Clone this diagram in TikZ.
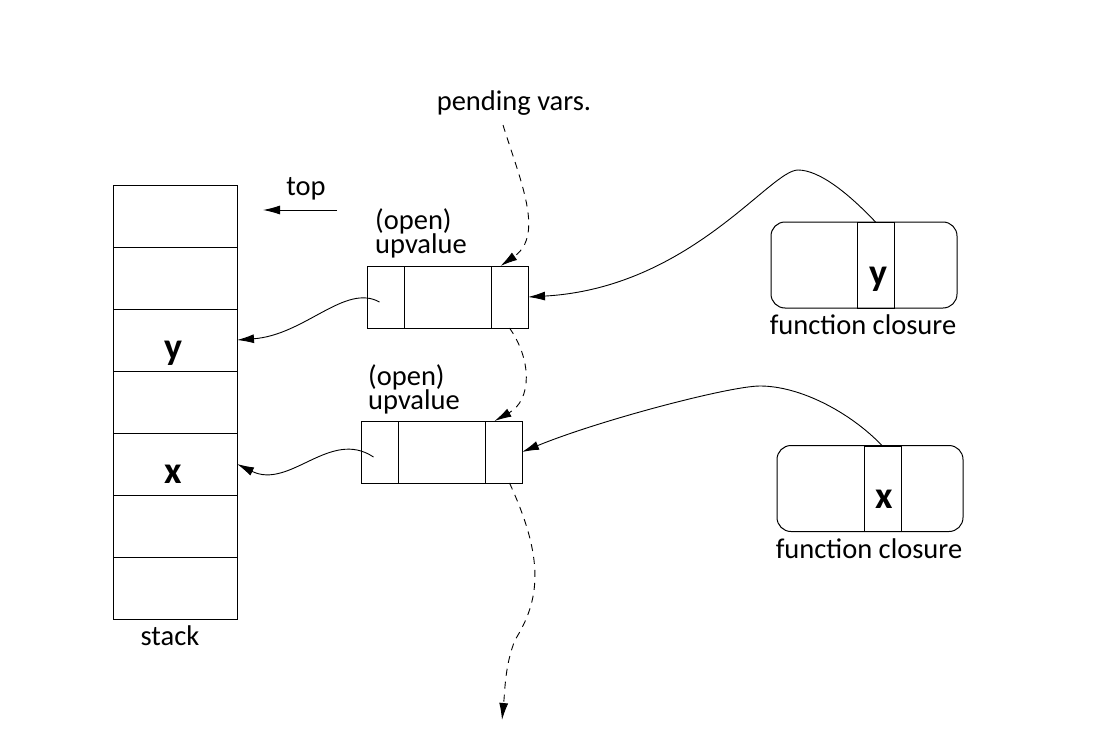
\documentclass[tikz,border=0pt]{standalone}
\usepackage{fontspec}
\setmainfont{Carlito}
\usetikzlibrary{arrows.meta,calc}
\begin{document}
\begin{tikzpicture}[x=1pt,y=-1pt,
  box/.style={draw,line width=1pt,inner sep=0pt,outer sep=0pt},
  stackcell/.style={box,minimum width=124pt,minimum height=62pt},
  narrow/.style={box,minimum width=37pt,minimum height=62pt},
  wide/.style={box,minimum width=87pt,minimum height=62pt},
  closure/.style={box,rounded corners=14pt,minimum width=186pt,minimum height=86pt},
  slot/.style={box,minimum width=37pt,minimum height=86pt},
  letter/.style={inner sep=0pt,anchor=base,font=\fontsize{38}{38}\selectfont\bfseries},
  lbl/.style={inner sep=0pt,font=\fontsize{28.5}{24}\selectfont},
  uplbl/.style={lbl,anchor=base west},
  arr/.style={-{Latex[length=17pt,width=9pt]},line width=0.9pt},
  darr/.style={arr,dash pattern=on 7pt off 6pt}
]
\useasboundingbox (0,0) rectangle (1102,741);

% stack
\node[stackcell] (s1) at (175,216) {};
\node[stackcell] (s2) at (175,278) {};
\node[stackcell] (s3) at (175,340) {};
\node[stackcell] (s4) at (175,402) {};
\node[stackcell] (s5) at (175,464) {};
\node[stackcell] (s6) at (175,526) {};
\node[stackcell] (s7) at (175,588) {};
\node[letter] (sy) at ($(s3.center)+(-2,19)$) {y};
\node[letter] (sx) at ($(s5.center)+(-2,19)$) {x};
\node[lbl] (stacklbl) at (170,636) {stack};

% top pointer
\node[lbl] (toplbl) at (306,189) {top};
\coordinate (topfrom) at (337,210);
\coordinate (topto) at (263,210);
\draw[arr] (topfrom) -- (topto);

% upvalue 1
\node[narrow] (u1a) at (385.5,297) {};
\node[wide]   (u1b) at (447.5,297) {};
\node[narrow] (u1c) at (509.5,297) {};
\node[uplbl] (u1open) at (375,229) {(open)};
\node[uplbl] (u1up) at (375,253) {upvalue};

% upvalue 2
\node[narrow] (u2a) at (379.5,452) {};
\node[wide]   (u2b) at (441.5,452) {};
\node[narrow] (u2c) at (503.5,452) {};
\node[uplbl] (u2open) at (368,385) {(open)};
\node[uplbl] (u2up) at (368,409) {upvalue};

% pending vars
\node[lbl] (pending) at (514,103) {pending vars.};
\coordinate (pstart) at (503,125);
\coordinate (pend) at (502,720);

% closures
\node[closure] (c1) at (864,265) {};
\node[slot] (c1y) at (875.5,265) {};
\node[letter] (cy) at ($(c1y.center)+(3,20)$) {y};
\node[lbl] (c1lbl) at (863,325) {function closure};

\node[closure] (c2) at (870,488.5) {};
\node[slot,minimum height=85pt] (c2x) at (882.5,488.5) {};
\node[letter] (cx) at ($(c2x.center)+(2,20)$) {x};
\node[lbl] (c2lbl) at (869,549) {function closure};

% upvalue -> stack
\draw[arr] ($(u1a.center)+(-6,5)$) .. controls (345,283) and (305,335) .. (s3.east);
\draw[arr] ($(u2a.center)+(-6,5)$) .. controls (330,428) and (290,490) .. (s5.east);

% closure -> upvalue
\draw[arr] (c1y.north) .. controls (850,195) and (820,170) .. (798,170)
  .. controls (770,170) and (690,288) .. (u1c.east);
\draw[arr] (c2x.north) .. controls (850,412) and (800,386) .. (760,386)
  .. controls (730,386) and (600,420) .. (u2c.east);

% pending list (dashed)
\draw[darr] (pstart) .. controls (520,180) and (545,235) .. ($(u1c.north)+(-9,0)$);
\draw[darr] (u1c.south) .. controls (532,360) and (532,400) .. ($(u2c.north)+(-9,0)$);
\draw[darr] ($(u2c.south)+(6,0)$) .. controls (545,560) and (540,600) .. (515,640)
  .. controls (505,665) and (505,690) .. (pend);
\end{tikzpicture}
\end{document}
